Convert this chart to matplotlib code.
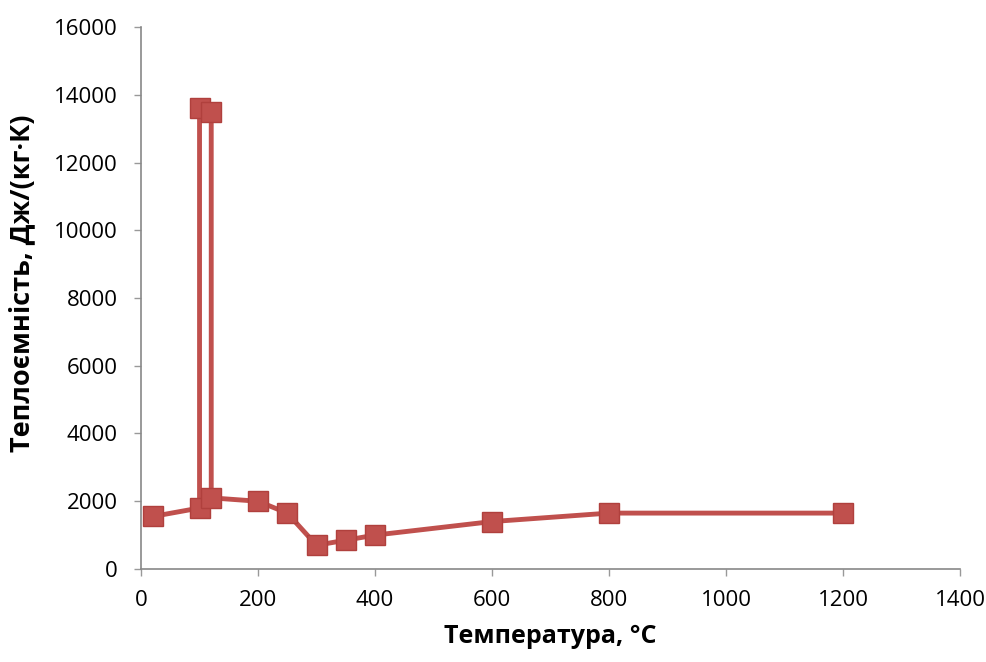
import matplotlib.pyplot as plt
from matplotlib import rcParams

rcParams['font.family'] = ['Open Sans', 'DejaVu Sans']

# temperature, deg C  and heat capacity, J/(kg K)  (path order as drawn)
temp = [20, 100, 100, 120, 120, 200, 250, 300, 350, 400, 600, 800, 1200]
heat_cap = [1550, 1800, 13600, 13500, 2100, 2000, 1650, 700, 850, 1000, 1400, 1650, 1650]

x_ticks = [0, 200, 400, 600, 800, 1000, 1200, 1400]
y_ticks = [0, 2000, 4000, 6000, 8000, 10000, 12000, 14000, 16000]

fig = plt.figure(figsize=(9.87, 6.62), dpi=100)
ax = fig.add_axes([0.1429, 0.1405, 0.8297, 0.8187])

red = '#C0504D'
ax.plot(temp, heat_cap, color=red, lw=3.5, marker='s', ms=15,
        markerfacecolor=red, markeredgecolor='#B0403D', markeredgewidth=1)

ax.set_xlim(0, 1400)
ax.set_ylim(0, 16000)
ax.set_xticks(x_ticks)
ax.set_yticks(y_ticks)
ax.tick_params(labelsize=16, colors='#999999', labelcolor='black', length=5, width=1)
ax.tick_params(axis='x', pad=10)
ax.tick_params(axis='y', pad=12)

for s in ['top', 'right']:
    ax.spines[s].set_visible(False)
for s in ['left', 'bottom']:
    ax.spines[s].set_color('#888888')
    ax.spines[s].set_linewidth(1.2)

fig.text(0.557, 0.02, 'Температура, °C', ha='center', va='bottom',
         fontsize=18, fontweight='bold')
fig.text(0.022, 0.5725, 'Теплоємність, Дж/(кг·К)', ha='center', va='center',
         rotation=90, fontsize=19.5, fontweight='bold')

fig.savefig('out.png', dpi=100, facecolor='white')
